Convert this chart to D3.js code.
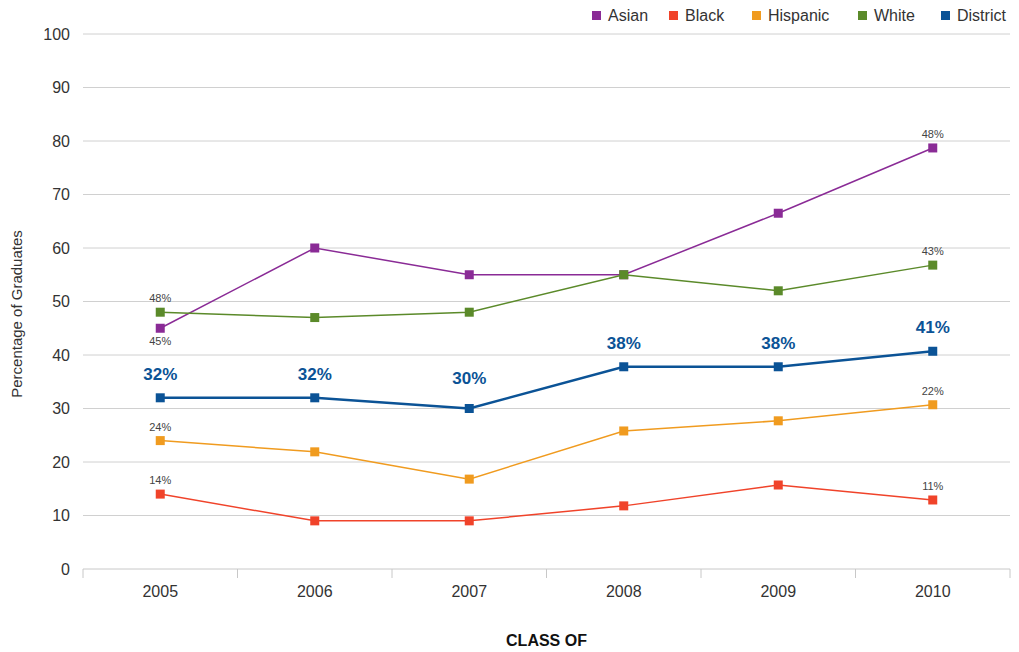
<!DOCTYPE html>
<html>
<head>
<meta charset="utf-8">
<script src="https://cdn.jsdelivr.net/npm/d3@7"></script>
<style>
  body { margin: 0; background: #fff; }
  text { font-family: "Liberation Sans", Arial, sans-serif; }
</style>
</head>
<body>
<div id="chart"></div>
<script>
var years = ["2005", "2006", "2007", "2008", "2009", "2010"];
var yTicks = [0, 10, 20, 30, 40, 50, 60, 70, 80, 90, 100];
var seriesNames = ["Asian", "Black", "Hispanic", "White", "District"];
var asian = [45, 60, 55, 55, 66.5, 78.7];
var black = [14, 9, 9, 11.8, 15.7, 12.9];
var hispanic = [24, 21.9, 16.8, 25.8, 27.7, 30.7];
var white = [48, 47, 48, 55, 52, 56.8];
var district = [32, 32, 30, 37.8, 37.8, 40.7];
var districtLabels = ["32%", "32%", "30%", "38%", "38%", "41%"];
// small labels: [series, year index, text, above?]
var pointLabels = [
  ["White", 0, "48%", true], ["Asian", 0, "45%", false],
  ["Asian", 5, "48%", true], ["White", 5, "43%", true],
  ["Hispanic", 0, "24%", true], ["Hispanic", 5, "22%", true],
  ["Black", 0, "14%", true], ["Black", 5, "11%", true]
];

var colors = {Asian: "#8a2b96", Black: "#f0432a", Hispanic: "#f09b1f", White: "#5b8a2a", District: "#0b5396"};
var values = {Asian: asian, Black: black, Hispanic: hispanic, White: white, District: district};

var width = 1019, height = 652;
var plotLeft = 83, plotRight = 1010, plotTop = 34, plotBottom = 569;

var svg = d3.select("#chart").append("svg")
  .attr("width", width)
  .attr("height", height);

var x = d3.scaleBand().domain(years).range([plotLeft, plotRight]);
var y = d3.scaleLinear().domain([0, 100]).range([plotBottom, plotTop]);

// gridlines
svg.append("g")
  .selectAll("line")
  .data(yTicks.filter(d => d > 0))
  .join("line")
    .attr("x1", plotLeft).attr("x2", plotRight)
    .attr("y1", d => y(d)).attr("y2", d => y(d))
    .attr("stroke", "#d0d0d0").attr("stroke-width", 1);

// y axis labels
svg.append("g")
  .selectAll("text")
  .data(yTicks)
  .join("text")
    .attr("x", 70).attr("y", d => y(d))
    .attr("dy", "0.35em")
    .attr("text-anchor", "end")
    .attr("font-size", 16)
    .attr("fill", "#333")
    .text(d => d);

// x axis
var xAxis = svg.append("g")
  .attr("transform", "translate(0," + plotBottom + ")");
xAxis.append("line")
  .attr("x1", plotLeft).attr("x2", plotRight)
  .attr("stroke", "#c8c8c8");
xAxis.selectAll("line.tick")
  .data(years.concat(["end"]))
  .join("line")
    .attr("class", "tick")
    .attr("x1", (d, i) => i < years.length ? x(d) : plotRight)
    .attr("x2", (d, i) => i < years.length ? x(d) : plotRight)
    .attr("y1", 0).attr("y2", 9)
    .attr("stroke", "#c8c8c8");
xAxis.selectAll("text")
  .data(years)
  .join("text")
    .attr("x", d => x(d) + x.bandwidth() / 2)
    .attr("y", 28)
    .attr("text-anchor", "middle")
    .attr("font-size", 16)
    .attr("fill", "#333")
    .text(d => d);

svg.append("text")
  .attr("x", (plotLeft + plotRight) / 2).attr("y", 646)
  .attr("text-anchor", "middle")
  .attr("font-size", 16).attr("font-weight", "bold")
  .attr("fill", "#111")
  .text("CLASS OF");

svg.append("text")
  .attr("transform", "translate(22,314) rotate(-90)")
  .attr("text-anchor", "middle")
  .attr("font-size", 15)
  .attr("fill", "#333")
  .text("Percentage of Graduates");

var cx = d => x(d) + x.bandwidth() / 2;
var line = d3.line().x((d, i) => cx(years[i])).y(d => y(d));

seriesNames.forEach(function(name) {
  var g = svg.append("g");
  g.append("path")
    .datum(values[name])
    .attr("fill", "none")
    .attr("stroke", colors[name])
    .attr("stroke-width", name === "District" ? 2.5 : 1.5)
    .attr("d", line);
  g.selectAll("rect")
    .data(values[name])
    .join("rect")
      .attr("x", (d, i) => cx(years[i]) - 4.5)
      .attr("y", d => y(d) - 4.5)
      .attr("width", 9).attr("height", 9)
      .attr("fill", colors[name]);
});

// district labels
svg.append("g")
  .selectAll("text")
  .data(district)
  .join("text")
    .attr("x", (d, i) => cx(years[i]))
    .attr("y", (d, i) => y(d) - (i === 2 ? 25 : 18))
    .attr("text-anchor", "middle")
    .attr("font-size", 17).attr("font-weight", "bold")
    .attr("fill", colors.District)
    .text((d, i) => districtLabels[i]);

// small labels
svg.append("g")
  .selectAll("text")
  .data(pointLabels)
  .join("text")
    .attr("x", d => cx(years[d[1]]))
    .attr("y", d => y(values[d[0]][d[1]]) + (d[3] ? -10 : 17))
    .attr("text-anchor", "middle")
    .attr("font-size", 11)
    .attr("fill", "#444")
    .text(d => d[2]);

// legend
var legendX = [592, 669, 752, 858, 941];
var legend = svg.append("g");
seriesNames.forEach(function(name, i) {
  legend.append("rect")
    .attr("x", legendX[i]).attr("y", 11)
    .attr("width", 9).attr("height", 9)
    .attr("fill", colors[name]);
  legend.append("text")
    .attr("x", legendX[i] + 16).attr("y", 21)
    .attr("font-size", 16)
    .attr("fill", "#333")
    .text(name);
});
</script>
</body>
</html>
